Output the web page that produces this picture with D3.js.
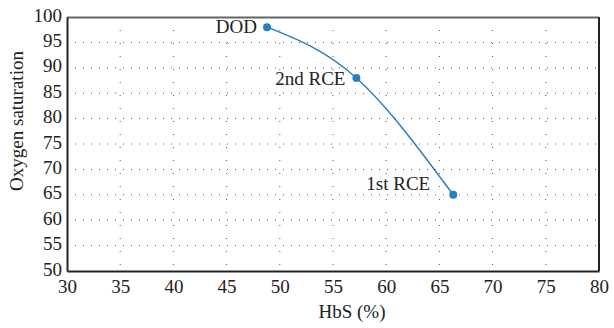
<!DOCTYPE html>
<html>
<head>
<meta charset="utf-8">
<script src="https://cdn.jsdelivr.net/npm/d3@7"></script>
</head>
<body style="margin:0;background:#fff">
<svg id="chart" width="614" height="328" style="display:block"></svg>
<script>
const labels = ['DOD', '2nd RCE', '1st RCE']
const hbs = [48.8, 57.2, 66.3]
const oxygen = [98, 88, 65]
const xTicks = [30, 35, 40, 45, 50, 55, 60, 65, 70, 75, 80]
const yTicks = [50, 55, 60, 65, 70, 75, 80, 85, 90, 95, 100]

const margin = { top: 17, right: 15, bottom: 57, left: 67 }
const width = 614
const height = 328
const _w = width - margin.left - margin.right
const _h = height - margin.top - margin.bottom
const blue = '#2a7fc1'
const font = 'Liberation Serif'
const fs = 19
const ink = '#222'

const svg = d3.select('#chart').attr('font-family', font)
const g = svg.append('g').attr('transform', `translate(${margin.left},${margin.top})`)

const x = d3.scaleLinear().domain([30, 80]).range([0, _w])
const y = d3.scaleLinear().domain([50, 100]).range([_h, 0])

// dotted grid
const grid = g.append('g').attr('stroke', '#555').attr('stroke-width', 1)
grid.selectAll('.hg')
  .data(yTicks.slice(1, -1))
  .join('line')
  .attr('x1', 0).attr('x2', _w)
  .attr('y1', (d) => y(d)).attr('y2', (d) => y(d))
  .attr('stroke-dasharray', '1,7')
grid.selectAll('.vg')
  .data(xTicks.slice(1, -1))
  .join('line')
  .attr('y1', 0).attr('y2', _h)
  .attr('x1', (d) => x(d)).attr('x2', (d) => x(d))
  .attr('stroke-dasharray', '1,12')

// box
g.append('line').attr('x1', 0).attr('x2', _w).attr('y1', 0.5).attr('y2', 0.5)
  .attr('stroke', '#666').attr('stroke-width', 2)
g.append('line').attr('x1', _w).attr('x2', _w).attr('y1', 0).attr('y2', _h)
  .attr('stroke', ink).attr('stroke-width', 2)

const xAxis = g.append('g')
  .attr('transform', `translate(0,${_h})`)
  .call(d3.axisBottom(x).tickValues(xTicks).tickSize(0).tickPadding(9))
xAxis.attr('font-family', font).attr('font-size', fs)
xAxis.selectAll('.tick text').attr('fill', ink)
xAxis.select('.domain').attr('stroke', ink).attr('stroke-width', 2)

const yAxis = g.append('g')
  .call(d3.axisLeft(y).tickValues(yTicks).tickSize(0).tickPadding(5))
yAxis.attr('font-family', font).attr('font-size', fs)
yAxis.selectAll('.tick text').attr('fill', ink).attr('dy', '0.22em')
yAxis.select('.domain').attr('stroke', ink).attr('stroke-width', 2)

// titles
svg.append('text')
  .attr('x', 352).attr('y', 318)
  .attr('text-anchor', 'middle')
  .attr('font-family', font)
  .attr('font-size', fs).attr('fill', ink)
  .text('HbS (%)')
svg.append('text')
  .attr('transform', 'translate(23,121) rotate(-90)')
  .attr('text-anchor', 'middle')
  .attr('font-family', font)
  .attr('font-size', fs).attr('fill', ink)
  .text('Oxygen saturation')

// curve
const pts = hbs.map((d, i) => [d, oxygen[i]])
const line = d3.line()
  .x((d) => x(d[0]))
  .y((d) => y(d[1]))
  .curve(d3.curveNatural)
g.append('path')
  .datum(pts)
  .attr('d', line)
  .attr('fill', 'none')
  .attr('stroke', blue)
  .attr('stroke-width', 1.5)

g.selectAll('circle')
  .data(pts)
  .join('circle')
  .attr('cx', (d) => x(d[0]))
  .attr('cy', (d) => y(d[1]))
  .attr('r', 4)
  .attr('fill', blue)

const labelShift = [[-10, 6], [-11, 7], [-23, -5]]
g.selectAll('.pt-label')
  .data(pts)
  .join('text')
  .attr('class', 'pt-label')
  .attr('x', (d, i) => x(d[0]) + labelShift[i][0])
  .attr('y', (d, i) => y(d[1]) + labelShift[i][1])
  .attr('text-anchor', 'end')
  .attr('font-family', font)
  .attr('font-size', fs)
  .attr('fill', ink)
  .text((d, i) => labels[i])
</script>
</body>
</html>
